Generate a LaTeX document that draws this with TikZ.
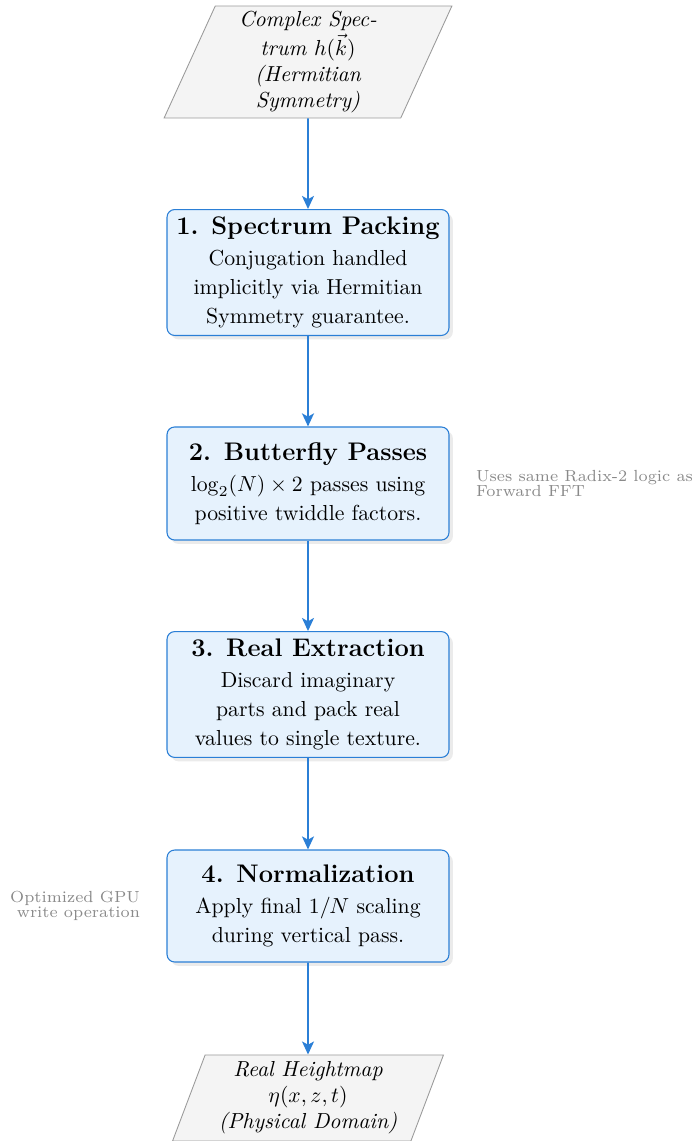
\documentclass[tikz,border=0pt]{standalone}
\usetikzlibrary{shapes.geometric,arrows.meta,shadows,positioning}
\definecolor{flowblue}{HTML}{2B7FD6}
\definecolor{boxfill}{HTML}{E6F2FD}
\definecolor{iofill}{HTML}{F4F4F4}
\definecolor{ioedge}{HTML}{9A9A9A}
\definecolor{notegray}{HTML}{8A8A8A}
% heading line of a processing stage
\newcommand{\stagetitle}[1]{{\fontsize{11.7}{14}\selectfont\bfseries #1}}
\begin{document}
\begin{tikzpicture}[x=0.46pt,y=-0.46pt,
  stepbox/.style={rectangle, rounded corners=3.5pt, draw=flowblue, line width=0.5pt,
    fill=boxfill, minimum width=129.7pt, minimum height=51.5pt, align=center,
    inner xsep=1pt, inner ysep=3.4pt, font=\fontsize{10}{13.3}\selectfont,
    drop shadow={shadow xshift=1.8pt, shadow yshift=-1.8pt, fill=black, opacity=0.08}},
  iobox/.style={trapezium, trapezium left angle=70, trapezium right angle=110,
    trapezium stretches=true, draw=ioedge, line width=0.4pt, fill=iofill,
    align=center, font=\itshape, inner sep=2pt},
  flow/.style={-{Stealth[length=6pt,width=5.5pt,inset=1.5pt]}, draw=flowblue, line width=0.9pt},
  note/.style={font=\fontsize{7.4}{6.9}\selectfont, text=notegray, inner sep=0pt}]
\useasboundingbox (0,0) rectangle (691,1141);

% input and output data
\node[iobox, minimum width=132.5pt, minimum height=51.5pt] (src) at (308,62)
  {Complex Spec-\\[1.5pt]trum $h(\vec{k})$\\(Hermitian\\Symmetry)};
\node[iobox, minimum width=124.7pt, minimum height=39.6pt] (out) at (308,1098)
  {Real Heightmap\\$\eta(x,z,t)$\\(Physical Domain)};

% processing stages
\node[stepbox] (b1) at (308,272.5)
  {\stagetitle{1. Spectrum Packing}\\[1pt]Conjugation handled\\implicitly via Hermitian\\Symmetry guarantee.};
\node[stepbox, minimum height=52pt] (b2) at (308,483.5)
  {\stagetitle{2. Butterfly Passes}\\[1pt]$\log_2(N)\times 2$ passes using\\positive twiddle factors.};
\node[stepbox] (b3) at (308,694.5)
  {\stagetitle{3. Real Extraction}\\[1pt]Discard imaginary\\parts and pack real\\values to single texture.};
\node[stepbox] (b4) at (308,906)
  {\stagetitle{4. Normalization}\\[1pt]Apply final $1/N$ scaling\\during vertical pass.};

% side remarks
\node[note, right=12pt of b2, align=left] (n1) {Uses same Radix-2 logic as\\Forward FFT};
\node[note, left=12pt of b4, align=right] (n2) {Optimized GPU\\write operation};

% data flow
\draw[flow] (src) -- (b1);
\draw[flow] (b1) -- (b2);
\draw[flow] (b2) -- (b3);
\draw[flow] (b3) -- (b4);
\draw[flow] (b4) -- (out);
\end{tikzpicture}
\end{document}
